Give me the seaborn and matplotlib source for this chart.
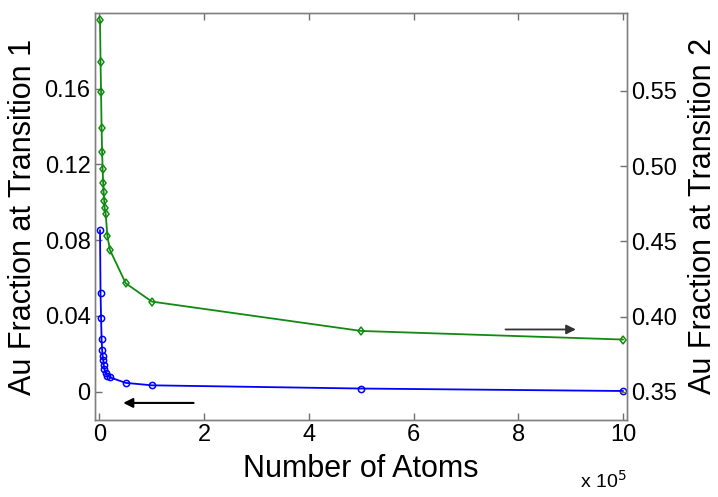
import numpy as np
import pandas as pd
import seaborn as sns
import matplotlib.pyplot as plt

# --- data (x in units of 1e5 atoms) ---
atoms_t1 = [0.01, 0.02, 0.03, 0.04, 0.05, 0.06, 0.07, 0.08, 0.09, 0.12, 0.15, 0.2, 0.5, 1, 5, 10]
frac_t1 = [0.0853, 0.052, 0.039, 0.0279, 0.0221, 0.019, 0.0168, 0.0142, 0.012,
           0.0098, 0.0084, 0.0075, 0.0046, 0.0033, 0.0016, 0.0003]

atoms_t2 = [0.01, 0.02, 0.03, 0.04, 0.05, 0.06, 0.07, 0.08, 0.09, 0.10, 0.12, 0.15, 0.2, 0.5, 1, 5, 10]
frac_t2 = [0.597, 0.569, 0.549, 0.5255, 0.5096, 0.4979, 0.489, 0.4826, 0.4768, 0.472,
           0.468, 0.4536, 0.4443, 0.4222, 0.41, 0.3905, 0.3848]

left_ticks = [0, 0.04, 0.08, 0.12, 0.16]
right_ticks = [0.35, 0.40, 0.45, 0.50, 0.55]
x_ticks = [0, 2, 4, 6, 8, 10]

df1 = pd.DataFrame({"atoms": atoms_t1, "frac": frac_t1})
df2 = pd.DataFrame({"atoms": atoms_t2, "frac": frac_t2})

sns.set_style("ticks")
plt.rcParams["font.family"] = ["Liberation Sans", "DejaVu Sans"]
plt.rcParams["text.color"] = "black"
plt.rcParams["axes.labelcolor"] = "black"

fig = plt.figure(figsize=(7.18, 4.97), dpi=100)
ax = fig.add_axes([0.132, 0.155, 0.741, 0.819])
ax2 = ax.twinx()

blue = "#0000ff"
green = "#108a10"

sns.lineplot(data=df1, x="atoms", y="frac", ax=ax, color=blue, sort=False,
             marker="o", markersize=4.5, markerfacecolor="none",
             markeredgecolor=blue, markeredgewidth=1.1, linewidth=1.3)
sns.lineplot(data=df2, x="atoms", y="frac", ax=ax2, color=green, sort=False,
             marker="d", markersize=4.5, markerfacecolor="none",
             markeredgecolor=green, markeredgewidth=1.1, linewidth=1.3)

ax.set_xlim(-0.09, 10.07)
ax.set_ylim(-0.015, 0.2)
ax2.set_ylim(0.3314, 0.6017)

ax.set_xticks(x_ticks)
ax.set_xticklabels([str(t) for t in x_ticks])
ax.set_yticks(left_ticks)
ax.set_yticklabels(["0", "0.04", "0.08", "0.12", "0.16"])
ax2.set_yticks(right_ticks)
ax2.set_yticklabels([f"{t:.2f}" for t in right_ticks])

for a in (ax, ax2):
    for s in a.spines.values():
        s.set_color("#808080")
        s.set_linewidth(1.0)
    a.tick_params(direction="in", length=5, width=1, color="#707070",
                  labelsize=17, labelcolor="black", pad=3)

ax.tick_params(top=True, right=False)
ax2.tick_params(right=True, left=False, top=False)

ax.set_xlabel("Number of Atoms", fontsize=22, labelpad=6)
ax.set_ylabel("Au Fraction at Transition 1", fontsize=22, labelpad=5)
ax2.set_ylabel("Au Fraction at Transition 2", fontsize=22, labelpad=8)

ax.text(1.0, -0.122, r"x 10$^5$", transform=ax.transAxes, fontsize=14,
        ha="right", va="top")

# direction arrows pointing to each series' axis
ax.annotate("", xy=(0.4, -0.006), xytext=(1.85, -0.006),
            arrowprops=dict(arrowstyle="-|>", color="black", lw=1.5,
                            mutation_scale=14))
ax2.annotate("", xy=(9.15, 0.3915), xytext=(7.7, 0.3915),
             arrowprops=dict(arrowstyle="-|>", color="#333333", lw=1.3,
                             mutation_scale=14))

plt.savefig("out.png", dpi=100)
